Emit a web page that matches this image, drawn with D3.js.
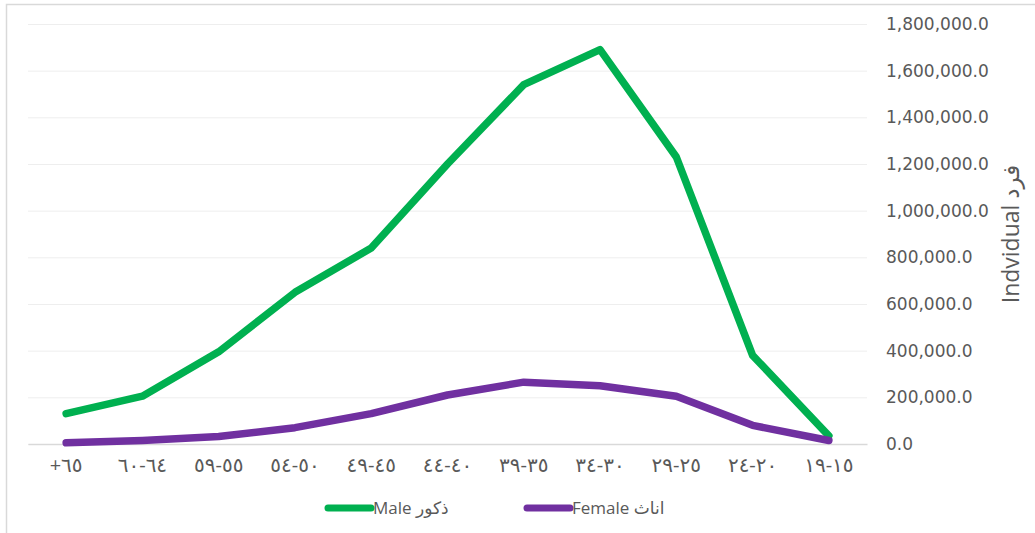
<!DOCTYPE html>
<html>
<head>
<meta charset="utf-8">
<script src="https://cdn.jsdelivr.net/npm/d3@7"></script>
<style>
  html, body { margin: 0; padding: 0; background: #fff; }
  svg { display: block; }
  text { font-family: "Open Sans", "DejaVu Sans", sans-serif; fill: #595959; }
</style>
</head>
<body>
<svg id="chart" width="1035" height="533"></svg>
<script>
// ---- data ----
const categories = ["+٦٥", "٦٠-٦٤", "٥٩-٥٥", "٥٤-٥٠", "٤٩-٤٥", "٤٤-٤٠", "٣٩-٣٥", "٣٤-٣٠", "٢٩-٢٥", "٢٤-٢٠", "١٩-١٥"];
const maleValues   = [130000, 205000, 395000, 650000, 840000, 1200000, 1540000, 1690000, 1230000, 380000, 35000];
const femaleValues = [5000, 15000, 32000, 70000, 130000, 210000, 265000, 250000, 205000, 80000, 15000];
const yTicks = [0, 200000, 400000, 600000, 800000, 1000000, 1200000, 1400000, 1600000, 1800000];
const seriesNames = ["Male ذكور", "Female اناث"];
const seriesColors = ["#00b050", "#7030a0"];
const yTitle = "Indvidual فرد";

// ---- layout ----
const svg = d3.select("#chart");
const plotL = 28, plotR = 867, plotT = 24, plotB = 444;

svg.append("rect")
  .attr("x", 6.5).attr("y", 4.5).attr("width", 1100).attr("height", 600)
  .attr("fill", "none").attr("stroke", "#d9d9d9").attr("stroke-width", 1.5);

const x = d3.scaleBand().domain(categories).range([plotL, plotR]);
const y = d3.scaleLinear().domain([0, 1800000]).range([plotB, plotT]);
const cx = d => x(d) + x.bandwidth() / 2;

// gridlines
const grid = svg.append("g").attr("transform", `translate(${plotR},0)`)
  .call(d3.axisLeft(y).tickValues(yTicks).tickSize(plotR - plotL).tickFormat(""));
grid.select(".domain").remove();
grid.selectAll("line").attr("stroke", "#eeeeee").attr("stroke-width", 1);

// y axis labels on right
const ya = svg.append("g").attr("transform", `translate(${plotR},0)`)
  .call(d3.axisRight(y).tickValues(yTicks).tickSize(0).tickPadding(19).tickFormat(d3.format(",.1f")));
ya.select(".domain").remove();
ya.selectAll("text").style("font-size", "17px").style("font-family", "'DejaVu Sans', sans-serif").attr("fill", "#595959");

// x axis
const xa = svg.append("g").attr("transform", `translate(0,${plotB})`)
  .call(d3.axisBottom(x).tickSize(0).tickPadding(14));
xa.select(".domain").attr("stroke", "#d9d9d9").attr("stroke-width", 1.5);
xa.selectAll("text").style("font-size", "20px").attr("fill", "#595959")
  .style("direction", "ltr").style("unicode-bidi", "bidi-override");

// y title
svg.append("text")
  .attr("transform", `translate(1019,234) rotate(-90)`)
  .attr("text-anchor", "middle")
  .style("font-size", "23px")
  .text(yTitle);

// lines
const line = d3.line().x((d, i) => cx(categories[i])).y(d => y(d));
[maleValues, femaleValues].forEach((vals, k) => {
  svg.append("path").datum(vals)
    .attr("d", line)
    .attr("fill", "none")
    .attr("stroke", seriesColors[k])
    .attr("stroke-width", 7.5)
    .attr("stroke-linejoin", "round")
    .attr("stroke-linecap", "round");
});

// legend
const legendX = [328, 527];
seriesNames.forEach((name, k) => {
  const g = svg.append("g").attr("transform", `translate(${legendX[k]},508)`);
  g.append("line").attr("x1", 0).attr("x2", 43).attr("y1", 0).attr("y2", 0)
    .attr("stroke", seriesColors[k]).attr("stroke-width", 7).attr("stroke-linecap", "round");
  g.append("text").attr("x", 45).attr("y", 0).attr("dy", "0.35em")
    .style("font-size", "17px").style("direction", "ltr").text(name);
});
</script>
</body>
</html>
